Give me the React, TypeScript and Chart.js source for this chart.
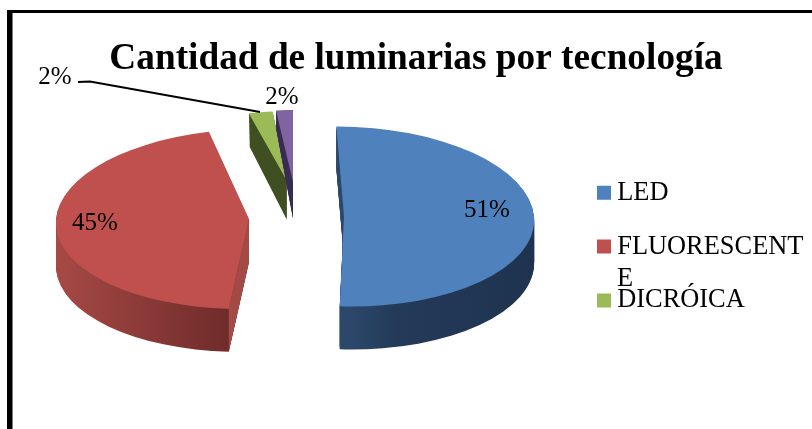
import React, { useEffect, useRef } from "react";
import { Chart, registerables } from "chart.js";

Chart.register(...registerables);

const categories = ["LED", "FLUORESCENT", "DICRÓICA", "OTROS"];
const shares = [51, 45, 2, 2];
const topColors = ["#4f81bd", "#c0504d", "#9bbb59", "#8064a2"];
const FONT = "'Liberation Serif', serif";

// Placement of each exploded slice: centre, radii, and shear of the 3D look.
const sliceBoxes = [
  { cx: 344, cy: 216.5, rx: 190, ry: 90, shear: 0.085, taper: 0 },
  { cx: 249, cy: 219, rx: 193, ry: 90, shear: -0.09, taper: 0 },
  { cx: 287, cy: 181, rx: 192, ry: 70, shear: -0.14, taper: 0.15 },
  { cx: 293, cy: 182, rx: 136, ry: 72, shear: 0, taper: 0.54 },
];
const depth = [43, 43, 39, 37];
const sideStops: [number, string][][] = [
  [[0.5, "#2b4769"], [0.62, "#233a58"], [1, "#1f3350"]],
  [[0, "#a84a46"], [0.46, "#702c2b"]],
  [[0, "#3f4f22"], [1, "#3f4f22"]],
  [[0, "#3a2b53"], [1, "#3a2b53"]],
];
const labelPositions = [
  [487, 210],
  [95, 223],
  [55, 77],
  [282, 97],
];

const scene = {
  id: "scene",
  beforeDraw(chart: any) {
    const { ctx } = chart;
    ctx.save();
    ctx.fillStyle = "#000";
    ctx.fillRect(7, 10, 805, 3);
    ctx.fillRect(7, 10, 5.5, 419);
    ctx.restore();
  },
  beforeDatasetDraw(chart: any) {
    const { ctx } = chart;
    const arcs = chart.getDatasetMeta(0).data;
    arcs.forEach((arc: any, i: number) => {
      const box = sliceBoxes[i];
      const R = arc.outerRadius;
      const place = (dy: number) => {
        ctx.translate(box.cx, box.cy + dy);
        ctx.transform(1, 0, box.shear, 1, 0, 0);
        ctx.scale(box.rx / R, (box.ry + dy * box.taper) / R);
        ctx.translate(-arc.x, -arc.y);
      };
      const base = arc.options;
      const grad = ctx.createLinearGradient(arc.x - R, 0, arc.x + R, 0);
      sideStops[i].forEach(([s, c]) => grad.addColorStop(s, c));
      arc.options = { ...base, backgroundColor: grad, borderWidth: 0 };
      for (let d = depth[i]; d >= 1; d--) {
        ctx.save();
        place(d);
        arc.draw(ctx);
        ctx.restore();
      }
      arc.options = base;
      if (i === 1) {
        // the visible cut face of the exploded red slice
        const a = arc.startAngle;
        const rimX = box.cx + box.rx * Math.cos(a) + box.shear * box.ry * Math.sin(a);
        const rimY = box.cy + box.ry * Math.sin(a);
        ctx.save();
        ctx.fillStyle = "#a34a46";
        ctx.beginPath();
        ctx.moveTo(box.cx, box.cy);
        ctx.lineTo(rimX, rimY);
        ctx.lineTo(rimX, rimY + depth[i]);
        ctx.lineTo(box.cx, box.cy + depth[i]);
        ctx.closePath();
        ctx.fill();
        ctx.restore();
      }
      ctx.save();
      place(0);
      arc.draw(ctx);
      ctx.restore();
    });
    return false;
  },
  afterLayout(chart: any) {
    chart.titleBlock.left = 20;
    chart.titleBlock.right = 812;
    const lg = chart.legend;
    lg.left = 576.5;
    lg.right = 812;
    lg.top = 152;
    lg.bottom = 429;
  },
  afterDraw(chart: any) {
    const { ctx } = chart;
    ctx.save();
    ctx.strokeStyle = "#000";
    ctx.lineWidth = 2;
    ctx.beginPath();
    ctx.moveTo(78, 82);
    ctx.lineTo(90, 81.5);
    ctx.lineTo(260, 112);
    ctx.stroke();
    ctx.fillStyle = "#000";
    ctx.textAlign = "center";
    ctx.textBaseline = "middle";
    ctx.font = `25px ${FONT}`;
    shares.forEach((v, i) => {
      ctx.fillText(`${v}%`, labelPositions[i][0], labelPositions[i][1]);
    });
    ctx.textAlign = "left";
    ctx.font = `26.4px ${FONT}`;
    ctx.fillText("E", 617, 279);
    ctx.restore();
  },
};

export default function App() {
  const ref = useRef<HTMLCanvasElement>(null);
  useEffect(() => {
    document.body.style.margin = "0";
    document.body.style.background = "#fff";
    const chart = new Chart(ref.current as HTMLCanvasElement, {
      type: "pie",
      data: {
        labels: categories,
        datasets: [{ data: shares, backgroundColor: topColors, borderWidth: 0 }],
      },
      options: {
        responsive: false,
        animation: false,
        events: [],
        layout: { padding: 0 },
        plugins: {
          tooltip: { enabled: false },
          title: {
            display: true,
            text: "Cantidad de luminarias por tecnología",
            color: "#000",
            font: { family: FONT, size: 37.3, weight: "bold" },
            padding: { top: 37, bottom: 0 },
          },
          legend: {
            position: "right",
            align: "start",
            labels: {
              color: "#000",
              font: { family: FONT, size: 26.4 },
              usePointStyle: true,
              pointStyle: "rect",
              boxWidth: 0.01,
              boxHeight: 14,
              padding: 27.5,
              filter: (item: any) => item.index < 3,
            },
          },
        },
      },
      plugins: [scene],
    } as any);
    return () => chart.destroy();
  }, []);
  return <canvas ref={ref} width={812} height={429} style={{ display: "block" }} />;
}
